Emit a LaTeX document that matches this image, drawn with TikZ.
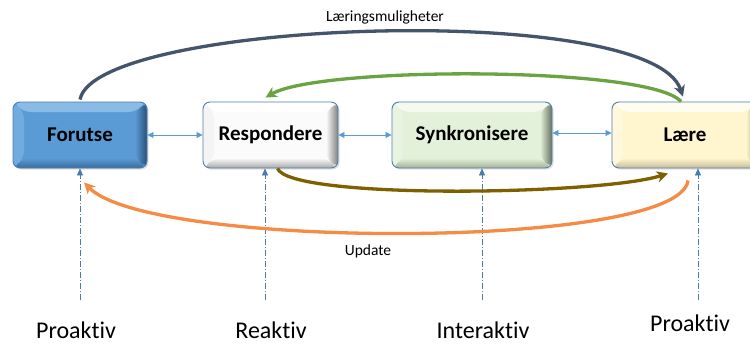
\documentclass[tikz,border=0pt]{standalone}
\usepackage{fontspec}
\setmainfont{Carlito}[Ligatures={NoCommon}]
\usetikzlibrary{arrows.meta,calc,shadows}
\definecolor{slate}{HTML}{44546A}
\definecolor{grn}{HTML}{6AA341}
\definecolor{olive}{HTML}{7F6000}
\definecolor{orng}{HTML}{F58B44}
\definecolor{lblue}{HTML}{5B9BD5}
\definecolor{bord}{HTML}{4F7FAF}
% Forutse
\definecolor{fT}{HTML}{8ABBE7}\definecolor{fL}{HTML}{72ABDF}\definecolor{fR}{HTML}{284F78}\definecolor{fB}{HTML}{3A6C9C}\definecolor{fC}{HTML}{5B9BD5}
% Respondere
\definecolor{rT}{HTML}{FFFFFF}\definecolor{rL}{HTML}{F4F4F4}\definecolor{rR}{HTML}{808080}\definecolor{rB}{HTML}{A8A8A8}\definecolor{rC}{HTML}{FBFBFB}
% Synkronisere
\definecolor{sT}{HTML}{F4FAEF}\definecolor{sL}{HTML}{E9F3E1}\definecolor{sR}{HTML}{66715E}\definecolor{sB}{HTML}{A3B098}\definecolor{sC}{HTML}{E4F1DA}
% Laere
\definecolor{lT}{HTML}{FFFDF0}\definecolor{lL}{HTML}{FFF8DC}\definecolor{lR}{HTML}{9E9679}\definecolor{lB}{HTML}{C6BD98}\definecolor{lC}{HTML}{FFF6D0}
\tikzset{
  bev/.style n args={5}{path picture={
    \coordinate (nw) at (path picture bounding box.north west);
    \coordinate (ne) at (path picture bounding box.north east);
    \coordinate (sw) at (path picture bounding box.south west);
    \coordinate (se) at (path picture bounding box.south east);
    \fill[#5] (nw) rectangle (se);
    \fill[#1] (nw) -- (ne) -- ($(ne)+(-12,10)$) -- ($(nw)+(11,10)$) -- cycle;
    \fill[#2] (nw) -- ($(nw)+(11,10)$) -- ($(sw)+(11,-10)$) -- (sw) -- cycle;
    \shade[top color=#5, bottom color=#4] (sw) -- (se) -- ($(se)+(-12,-10)$) -- ($(sw)+(11,-10)$) -- cycle;
    \shade[left color=#5, right color=#3] (ne) -- (se) -- ($(se)+(-12,-10)$) -- ($(ne)+(-12,10)$) -- cycle;
  }},
  box/.style={draw=bord, line width=0.9pt, rounded corners=7pt, minimum height=66pt,
    font=\fontsize{21}{24}\selectfont\bfseries, text=black,
    drop shadow={shadow xshift=1.5pt, shadow yshift=-1.5pt, opacity=0.25}},
  link/.style={lblue, line width=0.8pt, {Triangle[length=6pt,width=6pt]}-{Triangle[length=6pt,width=6pt]}},
  vdash/.style={lblue!80!black, line width=0.6pt, dash pattern=on 6pt off 2pt on 1pt off 2pt, -{Triangle[length=7pt,width=6pt]}},
  curve/.style={line width=3.3pt, -{Stealth[length=11pt,width=11pt,inset=3pt]}},
  lbl/.style={font=\fontsize{24}{28}\selectfont},
  small/.style={font=\fontsize{15.5}{18}\selectfont}
}
\begin{document}
\begin{tikzpicture}[x=1pt,y=-1pt]
\clip (0,0) rectangle (750,343);
\fill[white] (0,0) rectangle (750,343);

% boxes
\node[box, minimum width=134pt, bev={fT}{fL}{fR}{fB}{fC}] (f) at (80,135) {Forutse};
\node[box, minimum width=135pt, bev={rT}{rL}{rR}{rB}{rC}] (r) at (270.5,135) {Respondere};
\node[box, minimum width=160pt, bev={sT}{sL}{sR}{sB}{sC}] (s) at (472,135) {Synkronisere};
\node[box, minimum width=146pt, bev={lT}{lL}{lR}{lB}{lC}] (l) at (685,135) {Lære};

% links between boxes
\draw[link] (f.east) -- (r.west);
\draw[link] (r.east) -- (s.west);
\draw[link] ([yshift=2pt]s.east) -- ([yshift=2pt]l.west);

% dashed uprights
\coordinate (d1) at (80,300);
\coordinate (d2) at (265,300);
\coordinate (d3) at (482,300);
\coordinate (d4) at (698,300);
\draw[vdash] (d1) -- (d1 |- f.south);
\draw[vdash] (d2) -- (d2 |- r.south);
\draw[vdash] (d3) -- (d3 |- s.south);
\draw[vdash] (d4) -- (d4 |- l.south);

% curves
\draw[curve, slate] ([yshift=2pt]f.north) .. controls (95,20) and (650,0) .. ([xshift=-2pt,yshift=5pt]l.north);
\draw[curve, grn] ([xshift=-4pt]l.north) .. controls (650,66) and (320,66) .. ([xshift=-5pt,yshift=4pt]r.north);
\draw[curve, olive] ([xshift=7pt]r.south) .. controls (290,200) and (600,195) .. ([xshift=-17pt,yshift=-5pt]l.south);
\draw[curve, orng] ([xshift=3pt,yshift=-12pt]l.south) .. controls (680,250) and (150,250) .. ([xshift=4pt,yshift=-14pt]f.south);

% labels
\node[small] (t1) at (385,17) {Læringsmuligheter};
\node[small] (t2) at (368,251) {Update};
\node[lbl] (p1) at (76,330) {Proaktiv};
\node[lbl] (p2) at (271,330) {Reaktiv};
\node[lbl] (p3) at (483,330) {Interaktiv};
\node[lbl] (p4) at (690,323) {Proaktiv};
\end{tikzpicture}
\end{document}
